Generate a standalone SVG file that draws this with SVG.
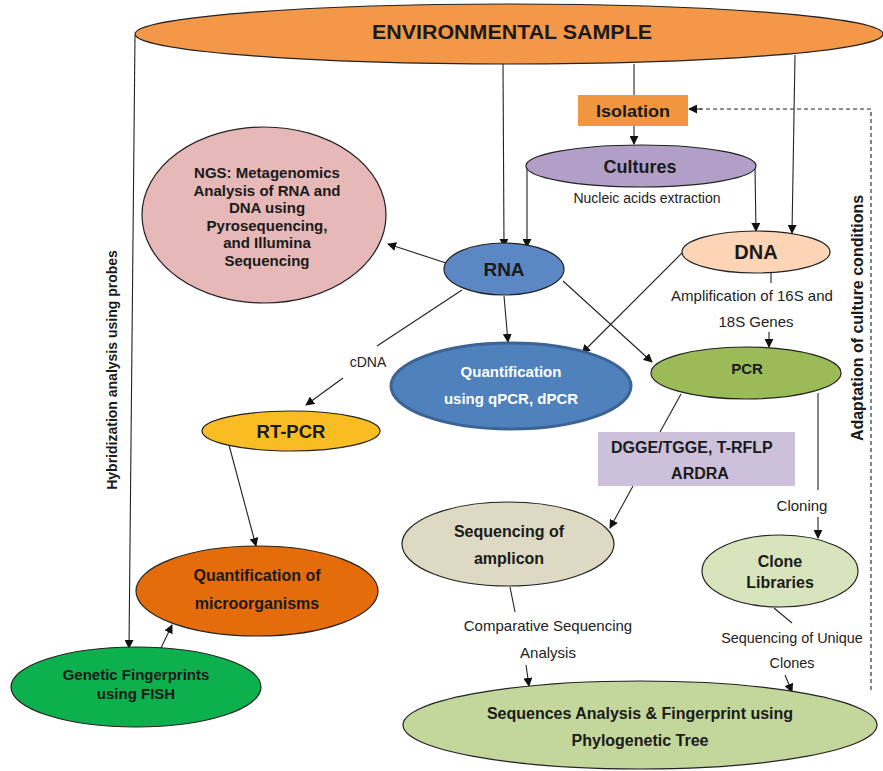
<svg xmlns="http://www.w3.org/2000/svg" width="883" height="771" viewBox="0 0 883 771">
  <defs>
    <marker id="arr" viewBox="0 0 10 10" refX="9" refY="5" markerWidth="9" markerHeight="9" markerUnits="userSpaceOnUse" orient="auto">
      <path d="M0,0 L10,5 L0,10 z" fill="#111"/>
    </marker>
    <style>
      .node ellipse, .node rect { stroke: #222; stroke-width: 1.2; }
      .b { font-family: "Liberation Sans", Arial, sans-serif; font-weight: bold; fill: #1a1a1a; text-anchor: middle; }
      .r { font-family: "Liberation Sans", Arial, sans-serif; fill: #222; text-anchor: middle; font-size: 15px; }
      .ln { stroke: #222; stroke-width: 1.1; fill: none; }
      .la { stroke: #222; stroke-width: 1.1; fill: none; marker-end: url(#arr); }
      .dash { stroke: #222; stroke-width: 1.1; fill: none; stroke-dasharray: 4 3; }
    </style>
  </defs>

  <!-- connectors -->
  <g id="connectors">
    <!-- from the sample ellipse -->
    <line class="la" x1="135" y1="35" x2="129" y2="648"/>
    <line class="la" x1="503" y1="62" x2="504" y2="247"/>
    <line class="ln" x1="634" y1="64" x2="634" y2="95"/>
    <line class="la" x1="634" y1="126" x2="634" y2="144"/>
    <line class="la" x1="795" y1="55" x2="792" y2="233"/>
    <!-- culture branch -->
    <line class="la" x1="527" y1="168" x2="527" y2="247"/>
    <line class="la" x1="755" y1="168" x2="756" y2="231"/>
    <!-- adaptation feedback loop -->
    <polyline class="dash" points="871,690 871,109 700,109"/>
    <line class="la" x1="702" y1="109" x2="689" y2="109"/>
    <!-- RNA outputs -->
    <line class="la" x1="446" y1="263" x2="388" y2="244"/>
    <line class="la" x1="504" y1="296" x2="508" y2="342"/>
    <line class="la" x1="563" y1="281" x2="652" y2="362"/>
    <line class="ln" x1="462" y1="290" x2="377" y2="346"/>
    <line class="la" x1="343" y1="378" x2="306" y2="405"/>
    <!-- DNA outputs -->
    <line class="la" x1="683" y1="252" x2="582" y2="353"/>
    <line class="ln" x1="771" y1="273" x2="771" y2="283"/>
    <line class="la" x1="769" y1="332" x2="769" y2="347"/>
    <!-- PCR outputs -->
    <line class="ln" x1="681" y1="394" x2="660" y2="432"/>
    <line class="la" x1="633" y1="486" x2="610" y2="528"/>
    <line class="ln" x1="818" y1="393" x2="818" y2="490"/>
    <line class="la" x1="818" y1="517" x2="818" y2="538"/>
    <!-- RT-PCR and FISH to quantification -->
    <line class="la" x1="229" y1="445" x2="256" y2="546"/>
    <line class="la" x1="160" y1="650" x2="172" y2="625"/>
    <!-- to the phylogenetic analysis -->
    <line class="ln" x1="510" y1="587" x2="515" y2="612"/>
    <line class="la" x1="526" y1="665" x2="529" y2="686"/>
    <line class="ln" x1="774" y1="608" x2="792" y2="623"/>
    <line class="la" x1="785" y1="675" x2="792" y2="692"/>
  </g>

  <!-- nodes -->
  <g id="sample" class="node">
    <ellipse cx="509" cy="34" rx="374" ry="30" fill="#f39748"/>
    <text class="b" x="512" y="39" font-size="20" textLength="280" lengthAdjust="spacingAndGlyphs">ENVIRONMENTAL SAMPLE</text>
  </g>
  <g id="isolation" class="node">
    <rect x="578" y="95" width="110" height="31" fill="#f0963f" style="stroke:none"/>
    <text class="b" x="633" y="117" font-size="17" textLength="74" lengthAdjust="spacingAndGlyphs">Isolation</text>
  </g>
  <g id="cultures" class="node">
    <ellipse cx="641" cy="166" rx="115" ry="21" fill="#b19fc8"/>
    <text class="b" x="640" y="173" font-size="18">Cultures</text>
  </g>
  <text class="r" x="647" y="203" style="font-size:14px">Nucleic acids extraction</text>

  <g id="ngs" class="node">
    <ellipse cx="264" cy="215" rx="122" ry="88" fill="#e6b8b7"/>
    <text class="b" x="267" y="178" font-size="15">NGS: Metagenomics</text>
    <text class="b" x="267" y="196" font-size="15">Analysis of RNA and</text>
    <text class="b" x="267" y="213" font-size="15">DNA using</text>
    <text class="b" x="267" y="231" font-size="15">Pyrosequencing,</text>
    <text class="b" x="267" y="248" font-size="15">and Illumina</text>
    <text class="b" x="267" y="266" font-size="15">Sequencing</text>
  </g>
  <g id="rna" class="node">
    <ellipse cx="504" cy="269" rx="60" ry="26" fill="#5b87c5"/>
    <text class="b" x="504" y="276" font-size="19">RNA</text>
  </g>
  <g id="dna" class="node">
    <ellipse cx="756" cy="252" rx="74" ry="21" fill="#fbd5b5"/>
    <text class="b" x="756" y="259" font-size="20">DNA</text>
  </g>
  <text class="r" x="752" y="301">Amplification of 16S and</text>
  <text class="r" x="756" y="327">18S Genes</text>

  <g id="pcr" class="node">
    <ellipse cx="746" cy="373" rx="95" ry="26" fill="#9bbb59"/>
    <text class="b" x="747" y="374" font-size="15">PCR</text>
  </g>
  <g id="quant-pcr" class="node">
    <ellipse cx="511" cy="386" rx="120" ry="43" fill="#4f81bd" style="stroke:#3b6394;stroke-width:3"/>
    <text class="b" x="511" y="377" font-size="15" style="fill:#fff">Quantification</text>
    <text class="b" x="511" y="404" font-size="15" style="fill:#fff">using qPCR, dPCR</text>
  </g>
  <text class="r" x="368" y="367" style="font-size:14px">cDNA</text>

  <g id="rt-pcr" class="node">
    <ellipse cx="291" cy="431" rx="89" ry="20" fill="#f9bd24"/>
    <text class="b" x="291" y="438" font-size="18.5">RT-PCR</text>
  </g>
  <g id="dgge" class="node">
    <rect x="598" y="432" width="197" height="54" fill="#ccc0da" style="stroke:none"/>
    <text class="b" x="611" y="453" font-size="16" style="text-anchor:start">DGGE/TGGE, T-RFLP</text>
    <text class="b" x="700" y="479" font-size="16">ARDRA</text>
  </g>
  <text class="r" x="802" y="511">Cloning</text>

  <g id="seq-amplicon" class="node">
    <ellipse cx="508" cy="544" rx="106" ry="42" fill="#ddd9c3"/>
    <text class="b" x="509" y="537" font-size="16">Sequencing of</text>
    <text class="b" x="509" y="564" font-size="16">amplicon</text>
  </g>
  <g id="clone-libraries" class="node">
    <ellipse cx="780" cy="571" rx="78" ry="36" fill="#d7e4bc"/>
    <text class="b" x="780" y="567" font-size="16">Clone</text>
    <text class="b" x="780" y="588" font-size="16">Libraries</text>
  </g>
  <g id="quant-micro" class="node">
    <ellipse cx="257" cy="591" rx="121" ry="45" fill="#e46c0a"/>
    <text class="b" x="257" y="581" font-size="16">Quantification of</text>
    <text class="b" x="257" y="609" font-size="16">microorganisms</text>
  </g>
  <g id="fish" class="node">
    <ellipse cx="136" cy="687" rx="125" ry="40" fill="#0cb04d"/>
    <text class="b" x="136" y="680" font-size="15">Genetic Fingerprints</text>
    <text class="b" x="136" y="699" font-size="15">using FISH</text>
  </g>
  <text class="r" x="548" y="631">Comparative Sequencing</text>
  <text class="r" x="548" y="658">Analysis</text>
  <text class="r" x="792" y="643" style="font-size:14.4px">Sequencing of Unique</text>
  <text class="r" x="792" y="668" style="font-size:14.4px">Clones</text>

  <g id="phylo" class="node">
    <ellipse cx="640" cy="725" rx="237" ry="44" fill="#c3d69b"/>
    <text class="b" x="640" y="719" font-size="16">Sequences Analysis &amp; Fingerprint using</text>
    <text class="b" x="640" y="746" font-size="16">Phylogenetic Tree</text>
  </g>

  <!-- vertical side labels -->
  <text class="b" transform="translate(117,370) rotate(-90)" font-size="14">Hybridization analysis using probes</text>
  <text class="b" transform="translate(863,318) rotate(-90)" font-size="16">Adaptation of culture conditions</text>
</svg>
